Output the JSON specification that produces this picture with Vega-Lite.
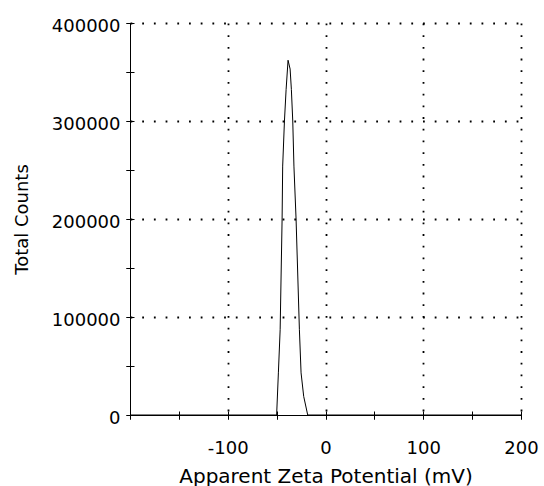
{
  "$schema": "https://vega.github.io/schema/vega-lite/v6.json",
  "width": 391,
  "height": 392,
  "autosize": {"type": "none"},
  "padding": {"left": 130, "top": 23, "right": 23, "bottom": 71},
  "background": "white",
  "config": {
    "view": {"stroke": null},
    "font": "DejaVu Sans",
    "axis": {
      "domainColor": "black",
      "domainWidth": 1,
      "tickColor": "black",
      "tickWidth": 1,
      "labelColor": "black",
      "titleColor": "black",
      "labelFont": "DejaVu Sans",
      "titleFont": "DejaVu Sans",
      "labelFontSize": 18,
      "titleFontSize": 18,
      "titleFontWeight": "normal",
      "labelOverlap": false,
      "labelFlush": false,
      "labelBound": false
    }
  },
  "data": {
    "values": [
      {"mv": -200, "counts": 0},
      {"mv": -50, "counts": 0},
      {"mv": -48.2, "counts": 43000},
      {"mv": -46.4, "counts": 87000},
      {"mv": -44.4, "counts": 200000},
      {"mv": -43.8, "counts": 254000},
      {"mv": -42.0, "counts": 300000},
      {"mv": -40.3, "counts": 332000},
      {"mv": -38.3, "counts": 362000},
      {"mv": -36.2, "counts": 353000},
      {"mv": -34.9, "counts": 332000},
      {"mv": -33.5, "counts": 300000},
      {"mv": -32.3, "counts": 254000},
      {"mv": -30.1, "counts": 200000},
      {"mv": -26.7, "counts": 87000},
      {"mv": -25.0, "counts": 43000},
      {"mv": -22.3, "counts": 19000},
      {"mv": -18.2, "counts": 0},
      {"mv": 200, "counts": 0}
    ]
  },
  "layer": [
    {
      "mark": {"type": "line", "opacity": 0},
      "encoding": {
        "x": {
          "field": "mv", "type": "quantitative",
          "scale": {"domain": [-200, 200], "nice": false, "zero": false},
          "axis": {
            "orient": "bottom",
            "values": [-100, 0, 100, 200],
            "ticks": false,
            "domain": false,
            "labels": false,
            "title": null,
            "grid": true,
            "gridColor": "black",
            "gridWidth": 1.8,
            "gridDash": [1.8, 9.9]
          }
        },
        "y": {
          "field": "counts", "type": "quantitative",
          "scale": {"domain": [0, 400000], "nice": false},
          "axis": {
            "orient": "left",
            "values": [100000, 200000, 300000, 400000],
            "ticks": false,
            "domain": false,
            "labels": false,
            "title": null,
            "grid": true,
            "gridColor": "black",
            "gridWidth": 1.8,
            "gridDash": [1.8, 9.9]
          }
        }
      }
    },
    {
      "mark": {"type": "line", "opacity": 0},
      "encoding": {
        "x": {
          "field": "mv", "type": "quantitative",
          "scale": {"domain": [-200, 200], "nice": false, "zero": false},
          "axis": {
            "orient": "bottom",
            "values": [-200, -150, -100, -50, 0, 50, 100, 150, 200],
            "tickSize": 8,
            "offset": -4,
            "domain": false,
            "labels": false,
            "title": null,
            "grid": false
          }
        },
        "y": {
          "field": "counts", "type": "quantitative",
          "scale": {"domain": [0, 400000], "nice": false},
          "axis": {
            "orient": "left",
            "values": [0, 50000, 100000, 150000, 200000, 250000, 300000, 350000, 400000],
            "tickSize": 8,
            "offset": -4,
            "domain": false,
            "labels": false,
            "title": null,
            "grid": false
          }
        }
      }
    },
    {
      "mark": {"type": "line", "color": "black", "strokeWidth": 1},
      "encoding": {
        "x": {
          "field": "mv", "type": "quantitative",
          "scale": {"domain": [-200, 200], "nice": false, "zero": false},
          "axis": {
            "orient": "bottom",
            "values": [-200, -150, -100, -50, 0, 50, 100, 150, 200],
            "tickSize": 4,
            "domain": true,
            "grid": false,
            "labelExpr": "datum.value % 100 === 0 && datum.value > -200 ? '' + datum.value : ''",
            "labelPadding": 20,
            "title": "Apparent Zeta Potential (mV)",
            "titleFontSize": 20,
            "titlePadding": 9
          }
        },
        "y": {
          "field": "counts", "type": "quantitative",
          "scale": {"domain": [0, 400000], "nice": false},
          "axis": {
            "orient": "left",
            "values": [0, 50000, 100000, 150000, 200000, 250000, 300000, 350000, 400000],
            "tickSize": 4,
            "domain": true,
            "grid": false,
            "labelExpr": "datum.value % 100000 === 0 ? '' + datum.value : ''",
            "labelPadding": 6,
            "labelOffset": 3,
            "title": "Total Counts",
            "titlePadding": 20
          }
        }
      }
    }
  ],
  "resolve": {"axis": {"x": "independent", "y": "independent"}}
}
